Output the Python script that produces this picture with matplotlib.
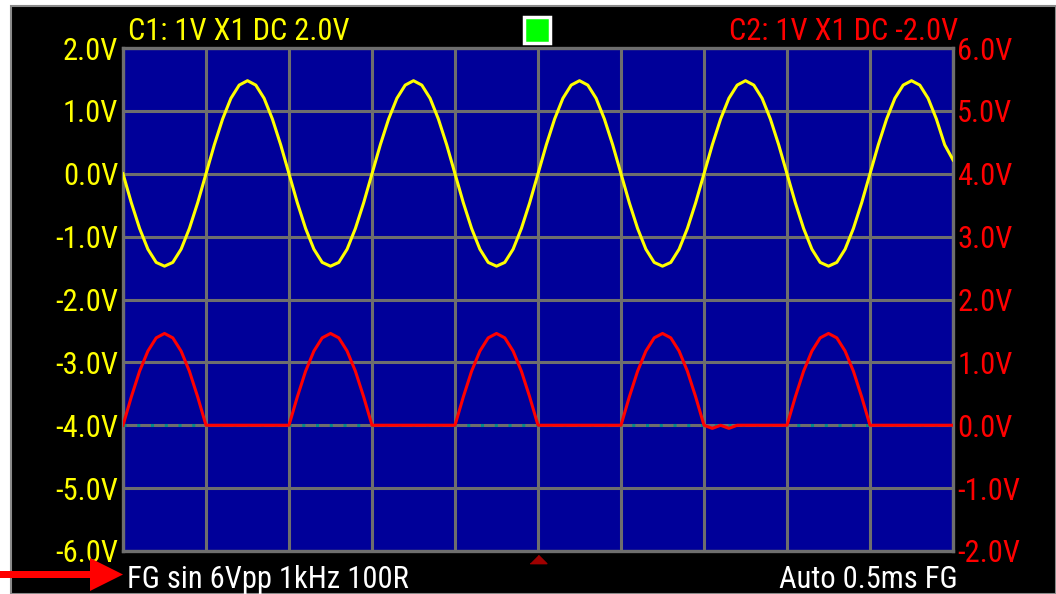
import numpy as np
import matplotlib
matplotlib.use("Agg")
import matplotlib.pyplot as plt
import matplotlib.transforms as mtransforms
from matplotlib.patches import Rectangle, Polygon
from matplotlib import font_manager

# scope sample interval (ms) and the two captured traces (V)
sample_ms = 0.05
ch1_volts = [
    0.00, -0.46, -0.87, -1.20, -1.41, -1.47, -1.41, -1.20, -0.87, -0.46,
    0.00, 0.46, 0.87, 1.20, 1.41, 1.48, 1.41, 1.20, 0.87, 0.46,
    0.00, -0.46, -0.87, -1.20, -1.41, -1.47, -1.41, -1.20, -0.87, -0.46,
    0.00, 0.46, 0.87, 1.20, 1.41, 1.48, 1.41, 1.20, 0.87, 0.46,
    0.00, -0.46, -0.87, -1.20, -1.41, -1.47, -1.41, -1.20, -0.87, -0.46,
    0.00, 0.46, 0.87, 1.20, 1.41, 1.48, 1.41, 1.20, 0.87, 0.46,
    0.00, -0.46, -0.87, -1.20, -1.41, -1.47, -1.41, -1.20, -0.87, -0.46,
    0.00, 0.46, 0.87, 1.20, 1.41, 1.48, 1.41, 1.20, 0.87, 0.46,
    0.00, -0.46, -0.87, -1.20, -1.41, -1.47, -1.41, -1.20, -0.87, -0.46,
    0.00, 0.46, 0.87, 1.20, 1.41, 1.48, 1.41, 1.20, 0.87, 0.46,
    0.22,
]
ch2_volts = [
    0.00, 0.45, 0.86, 1.18, 1.39, 1.46, 1.39, 1.18, 0.86, 0.45,
    0.00, 0.00, 0.00, 0.00, 0.00, 0.00, 0.00, 0.00, 0.00, 0.00,
    0.00, 0.45, 0.86, 1.18, 1.39, 1.46, 1.39, 1.18, 0.86, 0.45,
    0.00, 0.00, 0.00, 0.00, 0.00, 0.00, 0.00, 0.00, 0.00, 0.00,
    0.00, 0.45, 0.86, 1.18, 1.39, 1.46, 1.39, 1.18, 0.86, 0.45,
    0.00, 0.00, 0.00, 0.00, 0.00, 0.00, 0.00, 0.00, 0.00, 0.00,
    0.00, 0.45, 0.86, 1.18, 1.39, 1.46, 1.39, 1.18, 0.86, 0.45,
    0.00, -0.05, 0.00, -0.05, 0.00, 0.00, 0.00, 0.00, 0.00, 0.00,
    0.00, 0.45, 0.86, 1.18, 1.39, 1.46, 1.39, 1.18, 0.86, 0.45,
    0.00, 0.00, 0.00, 0.00, 0.00, 0.00, 0.00, 0.00, 0.00, 0.00,
    0.00,
]
t_ms = np.arange(len(ch1_volts)) * sample_ms

ch1_ticks = [-6, -5, -4, -3, -2, -1, 0, 1, 2]
ch2_ticks = [-2, -1, 0, 1, 2, 3, 4, 5, 6]
time_ticks = [0, 0.5, 1, 1.5, 2, 2.5, 3, 3.5, 4, 4.5, 5]
trigger_ms = 2.5

ch1_header = "C1: 1V X1 DC 2.0V"
ch2_header = "C2: 1V X1 DC -2.0V"
footer_left = "FG sin 6Vpp 1kHz 100R"
footer_right = "Auto 0.5ms FG"

# narrow font if there is one, otherwise a smaller regular one
FONT, FS = ["Liberation Sans", "DejaVu Sans"], 18.5
for name in ["Roboto Condensed", "Liberation Sans Narrow", "Open Sans Condensed"]:
    try:
        font_manager.findfont(name, fallback_to_default=False)
        FONT, FS = [name, "DejaVu Sans"], 22
        break
    except ValueError:
        pass

W, H = 1056, 594
YELLOW = "#ffff00"
RED = "#ff0000"
GRID = "#6e6e6e"


def fx(px):
    return px / W


def fy(py):
    return 1 - py / H


fig = plt.figure(figsize=(W / 100, H / 100), dpi=100, facecolor="white")

# black scope window with thin grey frame
fig.patches.append(Rectangle((fx(11), 0), 1 - fx(11), fy(6), transform=fig.transFigure,
                             facecolor="black", edgecolor="#8a8a8a", linewidth=1.5, zorder=-5))

ax = fig.add_axes([fx(123), fy(551), fx(953) - fx(123), fy(48) - fy(551)])
ax.set_zorder(1)
ax.set_facecolor("#000099")
ax.set_xlim(0, 5)
ax.set_ylim(-6, 2)
ax.set_xticks(time_ticks)
ax.set_yticks(ch1_ticks)
ax.set_yticklabels([f"{v:.1f}V" for v in ch1_ticks], color=YELLOW, fontsize=FS, family=FONT)
ax.tick_params(length=0, pad=3.5)
ax.tick_params(axis="x", labelbottom=False)
ax.grid(True, color=GRID, linewidth=2.2)
ax.set_axisbelow(True)
for s in ax.spines.values():
    s.set_color(GRID)
    s.set_linewidth(2.4)

ax2 = ax.twinx()
ax2.set_zorder(2)
ax2.set_ylim(-2, 6)
ax2.set_yticks(ch2_ticks)
ax2.set_yticklabels([f"{v:.1f}V" for v in ch2_ticks], color=RED, fontsize=FS, family=FONT)
ax2.tick_params(length=0, pad=3)
for s in ax2.spines.values():
    s.set_visible(False)

# ch2 ground reference (teal dots on the grid line)
ax2.axhline(0, color="#008b8b", linewidth=2.2, linestyle=(0, (1, 3.5)), zorder=1)

ax.plot(t_ms, ch1_volts, color=YELLOW, linewidth=2.2, zorder=3)
ax2.plot(t_ms, ch2_volts, color=RED, linewidth=2.2, zorder=3)

# trigger marker under the time axis
trans = mtransforms.blended_transform_factory(ax.transData, ax.transAxes)
ax.plot([trigger_ms], [-0.016], transform=trans, clip_on=False, linestyle="none",
        marker=[(-1, -0.5), (1, -0.5), (0, 0.5)], markersize=12, color="#a00000")

# header / footer text
fig.text(fx(128), fy(40), ch1_header, color=YELLOW, fontsize=FS, family=FONT, va="baseline")
fig.text(fx(958), fy(40), ch2_header, color=RED, fontsize=FS, family=FONT, va="baseline", ha="right")
fig.text(fx(127), fy(588), footer_left, color="white", fontsize=FS, family=FONT, va="baseline")
fig.text(fx(958), fy(588), footer_right, color="white", fontsize=FS, family=FONT, va="baseline", ha="right")

# run indicator
fig.patches.append(Rectangle((fx(524), fy(43)), fx(26), fy(17) - fy(43), transform=fig.transFigure,
                             facecolor="#00ff00", edgecolor="white", linewidth=2.5, zorder=5))

# red annotation arrow
arrow = [(0, 571), (90, 571), (90, 558), (123, 574.5), (90, 591), (90, 578), (0, 578)]
fig.patches.append(Polygon([(fx(x), fy(y)) for x, y in arrow], closed=True, transform=fig.transFigure,
                           facecolor=RED, edgecolor="none", zorder=5))

fig.savefig("out.png", dpi=100, facecolor=fig.get_facecolor())
